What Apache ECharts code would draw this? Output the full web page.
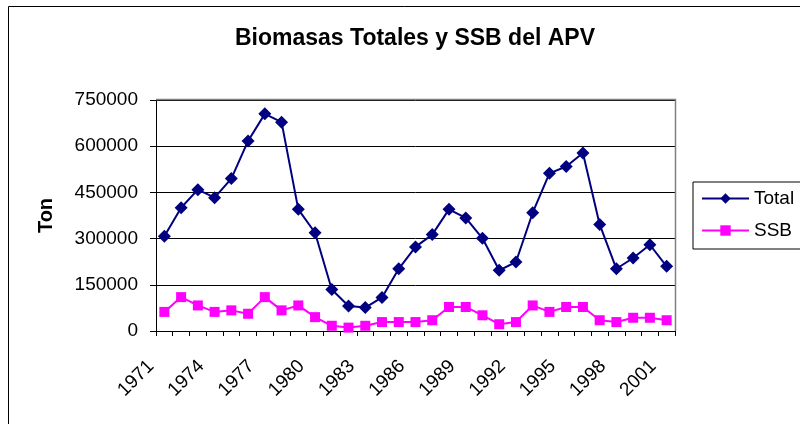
<!DOCTYPE html>
<html>
<head>
<meta charset="utf-8">
<script src="https://cdn.jsdelivr.net/npm/echarts@6/dist/echarts.min.js"></script>
<style>html,body{margin:0;padding:0;background:#fff;}#c{width:800px;height:424px;}</style>
</head>
<body>
<div id="c"></div>
<script>
const years = ['1971','1972','1973','1974','1975','1976','1977','1978','1979','1980','1981','1982','1983','1984','1985','1986','1987','1988','1989','1990','1991','1992','1993','1994','1995','1996','1997','1998','1999','2000','2001'];
const totalValues = [308000,400000,459000,433000,495000,617000,705000,678000,395000,319000,135000,81000,76000,109000,202000,273000,313000,395000,367000,301000,197000,224000,384000,512000,534000,578000,346000,202000,237000,280000,210000];
const ssbValues = [62000,110000,83000,62000,67000,56000,110000,67000,83000,45000,17000,11000,17000,29000,29000,29000,35000,78000,78000,51000,22000,29000,83000,62000,78000,78000,35000,29000,43000,43000,35000];
const yTicks = [0,150000,300000,450000,600000,750000];

const FONT = '"Liberation Sans", Arial, sans-serif';
const chart = echarts.init(document.getElementById('c'), null, {renderer:'canvas'});
chart.setOption({
  animation: false,
  backgroundColor: '#ffffff',
  title: {
    text: 'Biomasas Totales y SSB del APV',
    left: 410, top: 22, textAlign: 'center',
    textStyle: {fontFamily: FONT, fontSize: 23, fontWeight: 'bold', color: '#000'}
  },
  graphic: [
    {type:'rect', shape:{x:8.5, y:6.5, width:900, height:600}, style:{fill:'none', stroke:'#000', lineWidth:1}, z:-1},
    {type:'polyline', shape:{points:[[156,99.5],[675.5,99.5],[675.5,331]]}, style:{fill:'none', stroke:'#808080', lineWidth:1.5}, z:5}
  ],
  legend: {
    orient: 'vertical',
    left: 693, top: 182,
    padding: [7, 40, 9, 8],
    itemWidth: 47, itemHeight: 13,
    itemGap: 13,
    itemTextGap: 6,
    borderColor: '#000', borderWidth: 1,
    textStyle: {fontFamily: FONT, fontSize: 19, color: '#000'},
    data: ['Total','SSB']
  },
  grid: {left: 156, right: 125, top: 100, bottom: 93},
  xAxis: {
    type: 'category',
    data: years,
    boundaryGap: true,
    axisLine: {lineStyle: {color: '#000', width: 1}},
    axisTick: {show: true, interval: 0, length: 5, lineStyle: {color: '#000'}},
    axisLabel: {interval: 2, rotate: 45, margin: 19, padding: [0, 19, 0, 0], fontFamily: FONT, fontSize: 19, color: '#000'},
    splitLine: {show: false}
  },
  yAxis: {
    type: 'value',
    name: 'Ton',
    nameLocation: 'middle',
    nameGap: 100,
    nameRotate: 90,
    nameTextStyle: {fontFamily: FONT, fontSize: 20, fontWeight: 'bold', color: '#000'},
    min: 0, max: 750000, interval: 150000,
    axisLine: {show: true, lineStyle: {color: '#000', width: 1}},
    axisTick: {show: true, inside: false, length: 6, lineStyle: {color: '#000'}},
    axisLabel: {margin: 18, fontFamily: FONT, fontSize: 19, color: '#000',
      formatter: v => yTicks.includes(v) ? String(v) : ''},
    splitLine: {show: true, lineStyle: {color: '#000', width: 1}}
  },
  series: [
    {
      name: 'Total', type: 'line', data: totalValues,
      symbol: 'diamond', symbolSize: 13, showAllSymbol: true,
      lineStyle: {color: '#000080', width: 2},
      itemStyle: {color: '#000080'},
      z: 3
    },
    {
      name: 'SSB', type: 'line', data: ssbValues,
      symbol: 'rect', symbolSize: 10, showAllSymbol: true,
      lineStyle: {color: '#FF00FF', width: 2},
      itemStyle: {color: '#FF00FF'},
      z: 2
    }
  ]
});
</script>
</body>
</html>
